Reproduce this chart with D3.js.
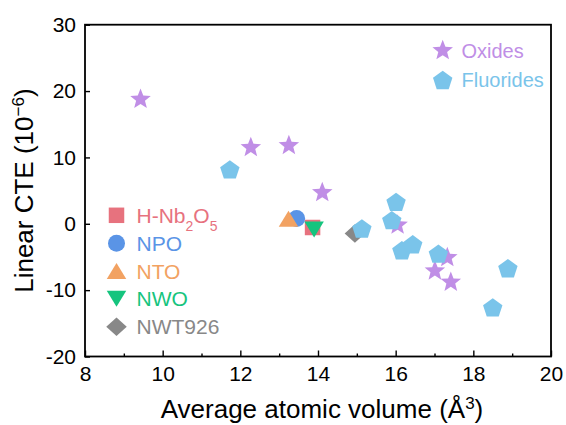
<!DOCTYPE html>
<html>
<head>
<meta charset="utf-8">
<script src="https://cdn.jsdelivr.net/npm/d3@7"></script>
<style>
  html, body { margin: 0; padding: 0; background: #fff; }
  svg { display: block; font-family: "Liberation Sans", Arial, Helvetica, sans-serif; }
</style>
</head>
<body>
<svg id="chart" width="566" height="425"></svg>
<script>
// Oxide frameworks (stars)
const oxideVolume = [9.43, 12.27, 13.25, 14.11, 16.05, 17.33, 17.01, 17.42];
const oxideCTE    = [18.75, 11.5, 11.8, 4.7, -0.2, -5.1, -7.1, -8.8];

// Fluoride frameworks (pentagons)
const fluorideVolume = [11.73, 15.13, 15.9, 16.01, 16.16, 16.44, 17.1, 18.89, 18.5];
const fluorideCTE    = [8.2, -0.7, 0.55, 3.3, -4.0, -3.1, -4.5, -6.7, -12.6];

// Individual niobium-based oxides
const materialNames  = ["H-Nb2O5", "NPO", "NTO", "NWO", "NWT926"];
const materialVolume = [13.86, 13.45, 13.24, 13.9, 14.95];
const materialCTE    = [-0.56, 0.8, 0.74, -0.85, -1.46];

// Axis ticks
const xMajorTicks = [8, 10, 12, 14, 16, 18, 20];
const xMinorTicks = [9, 11, 13, 15, 17, 19];
const yMajorTicks = [-20, -10, 0, 10, 20, 30];

const colors = {
  oxide: "#C08EE6",
  fluoride: "#7AC4EA",
  "H-Nb2O5": "#E7727E",
  "NPO": "#5A94E6",
  "NTO": "#F2A262",
  "NWO": "#16C47E",
  "NWT926": "#888888"
};

// Marker outlines centred on the origin
function starPath(r, ratio) {
  const pts = [];
  for (let i = 0; i < 10; i++) {
    const rr = i % 2 === 0 ? r : r * ratio;
    const a = -Math.PI / 2 + i * Math.PI / 5;
    pts.push([rr * Math.cos(a), rr * Math.sin(a)]);
  }
  return "M" + pts.map(p => p.join(",")).join("L") + "Z";
}
function pentagonPath(r) {
  const pts = [];
  for (let i = 0; i < 5; i++) {
    const a = -Math.PI / 2 + i * 2 * Math.PI / 5;
    pts.push([r * Math.cos(a), r * Math.sin(a) + r * 0.095]);
  }
  return "M" + pts.map(p => p.join(",")).join("L") + "Z";
}
function squarePath(s) { const h = s / 2; return `M${-h},${-h}L${h},${-h}L${h},${h}L${-h},${h}Z`; }
function circlePath(r) { return `M${r},0A${r},${r} 0 1,1 ${-r},0A${r},${r} 0 1,1 ${r},0Z`; }
function triUpPath(w, h) { return `M0,${-h/2}L${w/2},${h/2}L${-w/2},${h/2}Z`; }
function triDownPath(w, h) { return `M0,${h/2}L${w/2},${-h/2}L${-w/2},${-h/2}Z`; }
function diamondPath(w, h) { return `M0,${-h/2}L${w/2},0L0,${h/2}L${-w/2},0Z`; }

const materialShapes = {
  "H-Nb2O5": squarePath(15.5),
  "NPO": circlePath(8.5),
  "NTO": triUpPath(19.5, 16),
  "NWO": triDownPath(19.5, 16),
  "NWT926": diamondPath(20.5, 18.5)
};
const starShape = starPath(10.8, 0.43);
const pentShape = pentagonPath(10.2);

const svg = d3.select("#chart");
const plotLeft = 85, plotRight = 551, plotTop = 24.7, plotBottom = 356.5;

const x = d3.scaleLinear().domain([8, 20]).range([plotLeft, plotRight]);
const y = d3.scaleLinear().domain([-20, 30]).range([plotBottom, plotTop]);

// Axes
const xAxis = svg.append("g").attr("transform", `translate(0,${plotBottom})`)
  .call(d3.axisBottom(x).tickValues(xMajorTicks).tickSizeInner(-6).tickSizeOuter(0)
    .tickPadding(10).tickFormat(d => String(d)));
const xMinor = svg.append("g").attr("transform", `translate(0,${plotBottom})`)
  .call(d3.axisBottom(x).tickValues(xMinorTicks).tickSizeInner(-3).tickSizeOuter(0)
    .tickFormat(""));
const yAxis = svg.append("g").attr("transform", `translate(${plotLeft},0)`)
  .call(d3.axisLeft(y).tickValues(yMajorTicks).tickSizeInner(-5).tickSizeOuter(0)
    .tickPadding(9).tickFormat(d => String(d)));

[xAxis, xMinor, yAxis].forEach(g => {
  g.select(".domain").remove();
  g.selectAll(".tick line").attr("stroke", "#000").attr("stroke-width", 1.4);
  g.selectAll(".tick text").attr("fill", "#000").attr("font-size", 21)
    .attr("font-family", '"Liberation Sans", Arial, sans-serif');
});

// Frame
svg.append("rect")
  .attr("x", plotLeft).attr("y", plotTop)
  .attr("width", plotRight - plotLeft).attr("height", plotBottom - plotTop)
  .attr("fill", "none").attr("stroke", "#000").attr("stroke-width", 1.8);

// Axis titles
const xTitle = svg.append("text")
  .attr("x", (plotLeft + plotRight) / 2 + 4).attr("y", 418)
  .attr("text-anchor", "middle").attr("font-size", 26).attr("fill", "#000");
xTitle.append("tspan").text("Average atomic volume (Å");
xTitle.append("tspan").attr("baseline-shift", "super").attr("font-size", 17).text("3");
xTitle.append("tspan").text(")");

const yTitle = svg.append("text")
  .attr("transform", `translate(33,${(plotTop + plotBottom) / 2}) rotate(-90)`)
  .attr("text-anchor", "middle").attr("font-size", 26).attr("fill", "#000");
yTitle.append("tspan").text("Linear CTE (10");
yTitle.append("tspan").attr("baseline-shift", "super").attr("font-size", 17).text("−6");
yTitle.append("tspan").text(")");

const plot = svg.append("g");

// Individual materials
plot.selectAll("path.material")
  .data(materialNames.map((n, i) => ({ name: n, v: materialVolume[i], c: materialCTE[i] })))
  .join("path")
  .attr("class", "material")
  .attr("d", d => materialShapes[d.name])
  .attr("transform", d => `translate(${x(d.v)},${y(d.c)})`)
  .attr("fill", d => colors[d.name]);

// Oxides
plot.selectAll("path.oxide")
  .data(oxideVolume.map((v, i) => ({ v, c: oxideCTE[i] })))
  .join("path")
  .attr("class", "oxide")
  .attr("d", starShape)
  .attr("transform", d => `translate(${x(d.v)},${y(d.c)})`)
  .attr("fill", colors.oxide);

// Fluorides
plot.selectAll("path.fluoride")
  .data(fluorideVolume.map((v, i) => ({ v, c: fluorideCTE[i] })))
  .join("path")
  .attr("class", "fluoride")
  .attr("d", pentShape)
  .attr("transform", d => `translate(${x(d.v)},${y(d.c)})`)
  .attr("fill", colors.fluoride);

// Family legend (top right)
const famLegend = svg.append("g");
[["Oxides", starShape, colors.oxide, 50.5], ["Fluorides", pentShape, colors.fluoride, 80]]
  .forEach(([label, shape, col, cy]) => {
    famLegend.append("path").attr("d", shape)
      .attr("transform", `translate(442.7,${cy})`).attr("fill", col);
    famLegend.append("text").attr("x", 461.5).attr("y", cy + 7.2)
      .attr("font-size", 20).attr("fill", col).text(label);
  });

// Material legend (left)
const matLegend = svg.append("g");
const matRows = [215.3, 243.3, 271, 298.8, 326.8];
materialNames.forEach((name, i) => {
  const cy = matRows[i];
  matLegend.append("path").attr("d", materialShapes[name])
    .attr("transform", `translate(116.5,${cy})`).attr("fill", colors[name]);
  const t = matLegend.append("text").attr("x", 136.5).attr("y", cy + 7.5)
    .attr("font-size", 21).attr("fill", colors[name]);
  if (name === "H-Nb2O5") {
    t.append("tspan").text("H-Nb");
    t.append("tspan").attr("baseline-shift", "sub").attr("font-size", 14).text("2");
    t.append("tspan").text("O");
    t.append("tspan").attr("baseline-shift", "sub").attr("font-size", 14).text("5");
  } else {
    t.text(name);
  }
});
</script>
</body>
</html>
